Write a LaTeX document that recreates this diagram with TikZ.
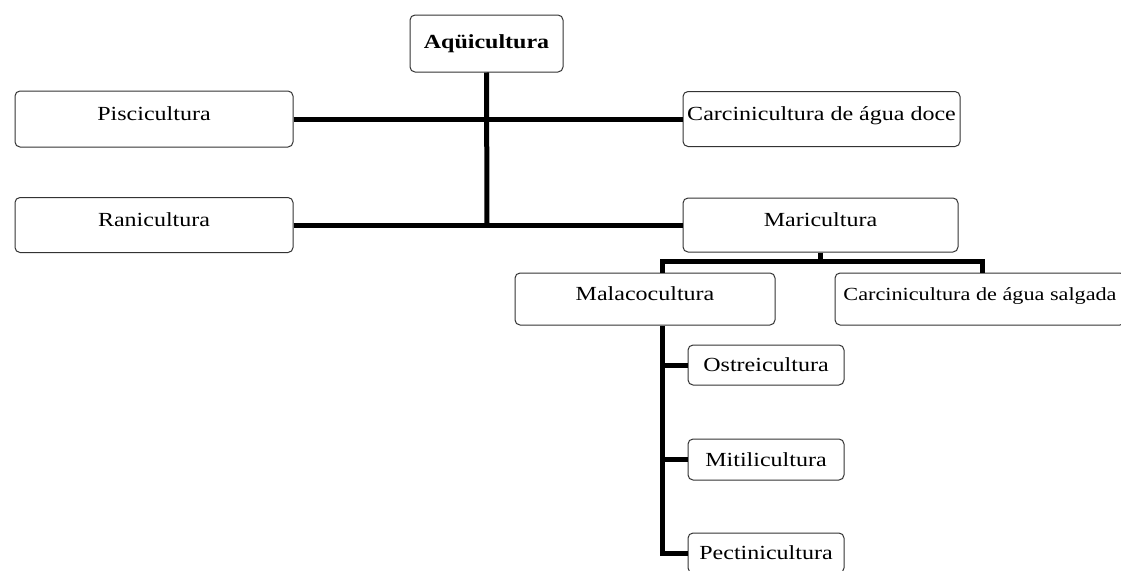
\documentclass[tikz,border=0pt]{standalone}
\usepackage{fontspec}
\setmainfont[FakeStretch=1.2]{Liberation Serif}
\begin{document}
\begin{tikzpicture}[x=1pt,y=-1pt,
  box/.style={draw=black!80, line width=1pt, rounded corners=5pt, inner sep=0pt,
    align=center, font=\fontsize{20}{22}\selectfont},
  big/.style={box, text height=14pt, text depth=12pt},
  small/.style={box},
  conn/.style={line width=5pt, black}]
\useasboundingbox (0,0) rectangle (1121,570);
\clip (0,0) rectangle (1121,570);
\node[box, minimum width=153pt, minimum height=57pt, font=\fontsize{20}{22}\selectfont\bfseries] (aq) at (486.5,43.5) {Aqüicultura};
\node[big, minimum width=278pt, minimum height=56pt] (pisc) at (154,119) {Piscicultura};
\node[big, minimum width=277pt, minimum height=55pt] (cardoce) at (821.5,119) {Carcinicultura de água doce};
\node[big, minimum width=278pt, minimum height=55pt] (rani) at (154,225) {Ranicultura};
\node[big, minimum width=275pt, minimum height=54pt] (mari) at (820.5,225) {Maricultura};
\node[big, minimum width=260pt, minimum height=52pt] (mala) at (645,299) {Malacocultura};
\node[big, minimum width=290pt, minimum height=52pt, font=\fontsize{18.5}{20}\selectfont] (carsal) at (980,299) {Carcinicultura de água salgada};
\node[small, minimum width=156pt, minimum height=40pt] (ostr) at (766,365) {Ostreicultura};
\node[small, minimum width=156pt, minimum height=41pt] (miti) at (766,459.5) {Mitilicultura};
\node[small, minimum width=156pt, minimum height=40pt] (pect) at (766,553) {Pectinicultura};
\coordinate (j2) at (487,225);
\coordinate (ml) at (662,261);
\coordinate (cr) at (982,261);
\draw[conn] (aq.south) -- (j2);
\draw[conn] (pisc.east) -- (cardoce.west);
\draw[conn] (rani.east) -- (mari.west);
\draw[conn] (mari.south) -- (mari.south |- ml);
\draw[conn] (ml |- mala.north) -- (ml) -- (cr) -- (cr |- carsal.north);
\draw[conn] (ml |- mala.south) -- (ml |- pect.west) -- (pect.west);
\draw[conn] (ml |- ostr.west) -- (ostr.west);
\draw[conn] (ml |- miti.west) -- (miti.west);
\end{tikzpicture}
\end{document}
